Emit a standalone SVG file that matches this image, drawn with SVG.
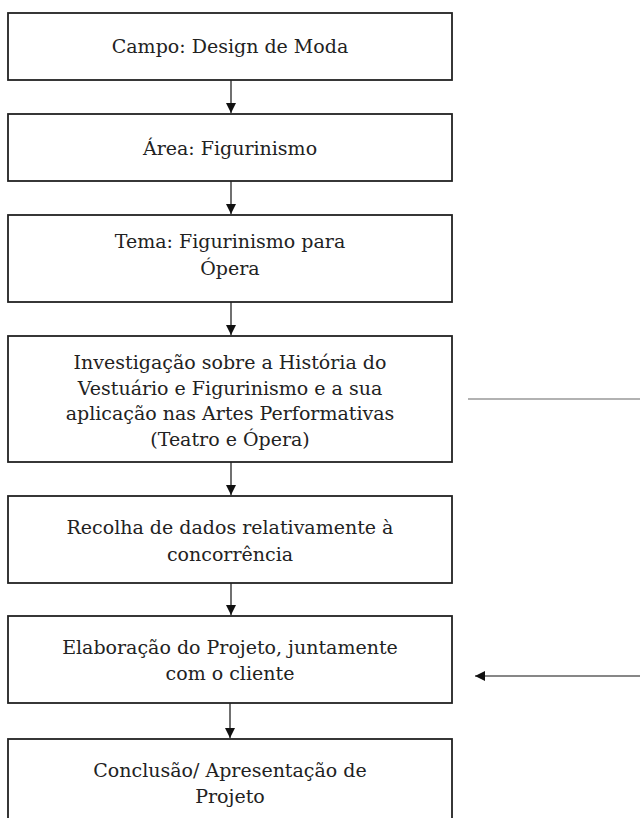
<svg xmlns="http://www.w3.org/2000/svg" width="640" height="818" viewBox="0 0 640 818">
<defs>
<style>
.box{fill:#fff;stroke:#222;stroke-width:1.8}
.t{font-family:"DejaVu Serif","Liberation Serif",serif;font-size:19px;fill:#222;text-anchor:middle;dominant-baseline:central}
.c{stroke:#111;stroke-width:1.2;fill:none}
.g{stroke:#666;stroke-width:1.2;fill:none}
</style>
<marker id="ah" viewBox="0 0 10 10" refX="10" refY="5" markerWidth="10" markerHeight="10" markerUnits="userSpaceOnUse" orient="auto">
<path d="M0,0 L10,5 L0,10 z" fill="#111"/>
</marker>
</defs>
<rect width="640" height="818" fill="#fff"/>
<g id="connectors">
<line class="c" x1="231" y1="80" x2="231" y2="113" marker-end="url(#ah)"/>
<line class="c" x1="231" y1="181" x2="231" y2="214" marker-end="url(#ah)"/>
<line class="c" x1="231" y1="302" x2="231" y2="335" marker-end="url(#ah)"/>
<line class="c" x1="231" y1="462" x2="231" y2="495" marker-end="url(#ah)"/>
<line class="c" x1="231" y1="583" x2="231" y2="615" marker-end="url(#ah)"/>
<line class="c" x1="230" y1="703" x2="230" y2="738" marker-end="url(#ah)"/>
<line class="g" x1="468" y1="399" x2="640" y2="399"/>
<line class="c" x1="640" y1="676" x2="475" y2="676" marker-end="url(#ah)"/>
</g>
<g id="n1"><rect class="box" x="8" y="13" width="444" height="67"/><text class="t" x="230" y="46">Campo: Design de Moda</text></g>
<g id="n2"><rect class="box" x="8" y="114" width="444" height="67"/><text class="t" x="230" y="148">Área: Figurinismo</text></g>
<g id="n3"><rect class="box" x="8" y="215" width="444" height="87"/><text class="t" x="230" y="241">Tema: Figurinismo para</text><text class="t" x="230" y="268">Ópera</text></g>
<g id="n4"><rect class="box" x="8" y="336" width="444" height="126"/><text class="t" x="230" y="362">Investigação sobre a História do</text><text class="t" x="230" y="388">Vestuário e Figurinismo e a sua</text><text class="t" x="230" y="413">aplicação nas Artes Performativas</text><text class="t" x="230" y="439">(Teatro e Ópera)</text></g>
<g id="n5"><rect class="box" x="8" y="496" width="444" height="87"/><text class="t" x="230" y="527">Recolha de dados relativamente à</text><text class="t" x="230" y="554">concorrência</text></g>
<g id="n6"><rect class="box" x="8" y="616" width="444" height="87"/><text class="t" x="230" y="647">Elaboração do Projeto, juntamente</text><text class="t" x="230" y="673">com o cliente</text></g>
<g id="n7"><rect class="box" x="8" y="739" width="444" height="100"/><text class="t" x="230" y="770">Conclusão/ Apresentação de</text><text class="t" x="230" y="796">Projeto</text></g>
</svg>
